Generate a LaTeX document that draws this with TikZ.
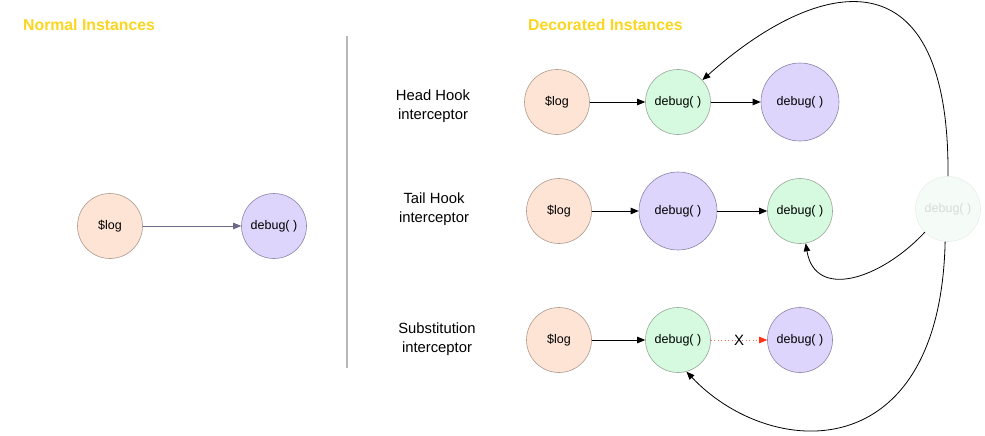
\documentclass[tikz,border=0pt]{standalone}
\usepackage{fontspec}
\setmainfont{Liberation Sans}
\usetikzlibrary{arrows.meta}
\definecolor{peachF}{HTML}{FDE4D5}
\definecolor{peachD}{HTML}{AE9A8E}
\definecolor{greenF}{HTML}{D5FADF}
\definecolor{greenD}{HTML}{98A898}
\definecolor{purpF}{HTML}{DDD5FC}
\definecolor{purpD}{HTML}{8C84A8}
\definecolor{fadeF}{HTML}{F5FBF6}
\definecolor{fadeD}{HTML}{E8EEE9}
\definecolor{fadeT}{HTML}{D6DCD7}
\definecolor{titleY}{HTML}{FCD51E}
\definecolor{normArr}{HTML}{6C6888}
\definecolor{divG}{HTML}{B8B8B8}
\definecolor{redArr}{HTML}{FF3311}
\tikzset{
  x=1pt, y=-1pt,
  circ/.style={circle, draw, line width=0.6pt, inner sep=0pt, font=\fontsize{12.5}{14}\selectfont},
  logn/.style={circ, fill=peachF, draw=peachD, minimum size=65pt},
  gn/.style={circ, fill=greenF, draw=greenD, minimum size=65pt},
  pn/.style={circ, fill=purpF, draw=purpD, minimum size=65pt},
  pbig/.style={pn, minimum size=78pt},
  fn/.style={circ, fill=fadeF, draw=fadeD, text=fadeT, minimum size=65pt},
  lbl/.style={align=center, font=\fontsize{14.8}{19}\selectfont},
  title/.style={font=\bfseries\fontsize{15.8}{18}\selectfont, text=titleY, anchor=west},
  arr/.style={-{Triangle[length=8pt,width=6.5pt]}, line width=0.8pt, black},
}
\begin{document}
\begin{tikzpicture}
\useasboundingbox (0,0) rectangle (985,436);
% titles
\node[title, inner sep=0pt] (t1) at (23,25) {Normal Instances};
\node[title, inner sep=0pt] (t2) at (528,25) {Decorated Instances};
% divider
\coordinate (dv1) at (347,36);
\coordinate (dv2) at (347,368);
\draw[divG, line width=1.2pt] (dv1) -- (dv2);
% normal
\node[logn] (nlog) at (110,226) {\$log};
\node[pn] (ndbg) at (274,226) {debug( )};
\draw[normArr, line width=0.8pt, -{Triangle[length=8pt,width=6.5pt]}] (nlog) -- (ndbg);
% labels
\node[lbl] (l1) at (433,106) {Head Hook\\interceptor};
\node[lbl] (l2) at (434,209) {Tail Hook\\interceptor};
\node[lbl] (l3) at (437,339) {Substitution\\interceptor};
% row 1
\node[logn] (log1) at (557,102) {\$log};
\node[gn] (g1) at (678,102) {debug( )};
\node[pbig] (p1) at (800,102) {debug( )};
\draw[arr] (log1) -- (g1);
\draw[arr] (g1) -- (p1);
% row 2
\node[logn] (log2) at (559,211) {\$log};
\node[pbig] (p2) at (678,211) {debug( )};
\node[gn] (g2) at (800,211) {debug( )};
\draw[arr] (log2) -- (p2);
\draw[arr] (p2) -- (g2);
% row 3
\node[logn] (log3) at (559,340) {\$log};
\node[gn] (g3) at (678,340) {debug( )};
\node[pn] (p3) at (800,340) {debug( )};
\draw[arr] (log3) -- (g3);
\draw[redArr!70, line width=0.7pt, dash pattern=on 1pt off 2.5pt, -{Triangle[length=8pt,width=6.5pt, color=redArr, fill=redArr]}] (g3) -- node[inner sep=1pt, text=black, font=\fontsize{15}{16}\selectfont] (xm) {X} (p3);
% faded
\node[fn] (f) at (948,209) {debug( )};
% curves
\draw[arr] (f.north) .. controls (950,-50) and (820,-25) .. (g1.42);
\draw[arr] (f.225) .. controls (880,280) and (815,300) .. (g2.280);
\draw[arr] (f.265) .. controls (940,470) and (770,460) .. (g3.285);
\end{tikzpicture}
\end{document}
